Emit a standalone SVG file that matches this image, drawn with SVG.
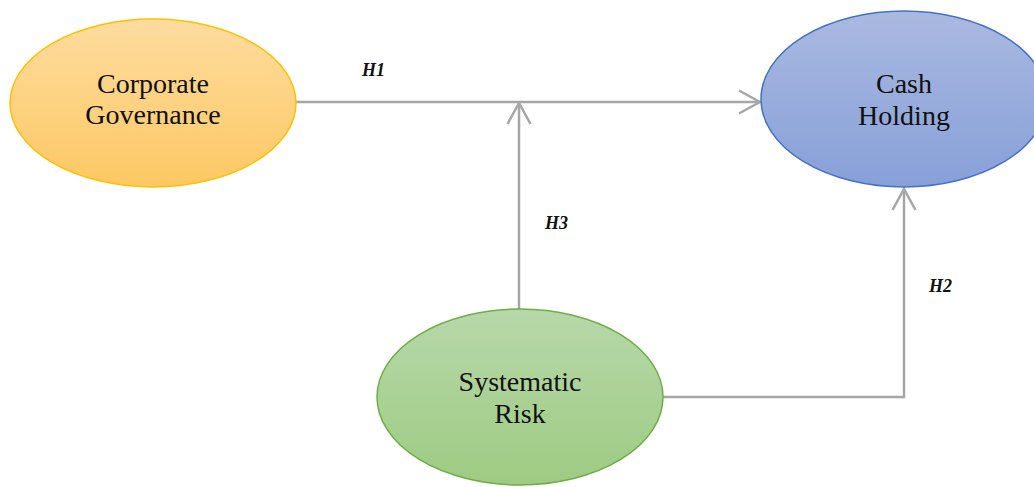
<svg xmlns="http://www.w3.org/2000/svg" width="1034" height="487" viewBox="0 0 1034 487">
<defs>
<linearGradient id="gY" x1="0" y1="0" x2="0" y2="1"><stop offset="0" stop-color="#fedc9f"/><stop offset="1" stop-color="#fcc863"/></linearGradient>
<linearGradient id="gB" x1="0" y1="0" x2="0" y2="1"><stop offset="0" stop-color="#aab9e1"/><stop offset="1" stop-color="#87a0d8"/></linearGradient>
<linearGradient id="gG" x1="0" y1="0" x2="0" y2="1"><stop offset="0" stop-color="#b7d8aa"/><stop offset="1" stop-color="#9ecb82"/></linearGradient>
<marker id="arr" viewBox="0 0 24 26" refX="22" refY="13" markerWidth="24" markerHeight="26" markerUnits="userSpaceOnUse" orient="auto">
<path d="M1,1.5 L22,13 L1,24.5" fill="none" stroke="#a6a6a6" stroke-width="2.5"/>
</marker>
<style>
.node-text{font-family:"Liberation Serif","Times New Roman",serif;font-size:28px;fill:#111;text-anchor:middle}
.lbl{font-family:"Liberation Serif","Times New Roman",serif;font-size:18px;font-weight:bold;font-style:italic;fill:#111}
.conn{fill:none;stroke:#a6a6a6;stroke-width:2.5}
</style>
</defs>
<rect width="1034" height="487" fill="#ffffff"/>
<g id="connectors">
<path class="conn" d="M296,102 L760,102" marker-end="url(#arr)"/>
<path class="conn" d="M519,309 L519,103" marker-end="url(#arr)"/>
<path class="conn" d="M663,397 L904,397 L904,189" marker-end="url(#arr)"/>
<text class="lbl" x="362" y="76">H1</text>
<text class="lbl" x="545" y="229">H3</text>
<text class="lbl" x="929" y="292">H2</text>
</g>
<g id="corporate-governance">
<ellipse cx="153" cy="103" rx="143" ry="84" fill="url(#gY)" stroke="#ffc000" stroke-width="1.5"/>
<text class="node-text" x="153" y="93">Corporate</text>
<text class="node-text" x="153" y="124">Governance</text>
</g>
<g id="cash-holding">
<ellipse cx="904" cy="99" rx="143" ry="88" fill="url(#gB)" stroke="#4472c4" stroke-width="1.5"/>
<text class="node-text" x="904" y="93">Cash</text>
<text class="node-text" x="904" y="125">Holding</text>
</g>
<g id="systematic-risk">
<ellipse cx="520" cy="397" rx="143" ry="88" fill="url(#gG)" stroke="#70ad47" stroke-width="1.5"/>
<text class="node-text" x="520" y="391">Systematic</text>
<text class="node-text" x="520" y="423">Risk</text>
</g>
</svg>
